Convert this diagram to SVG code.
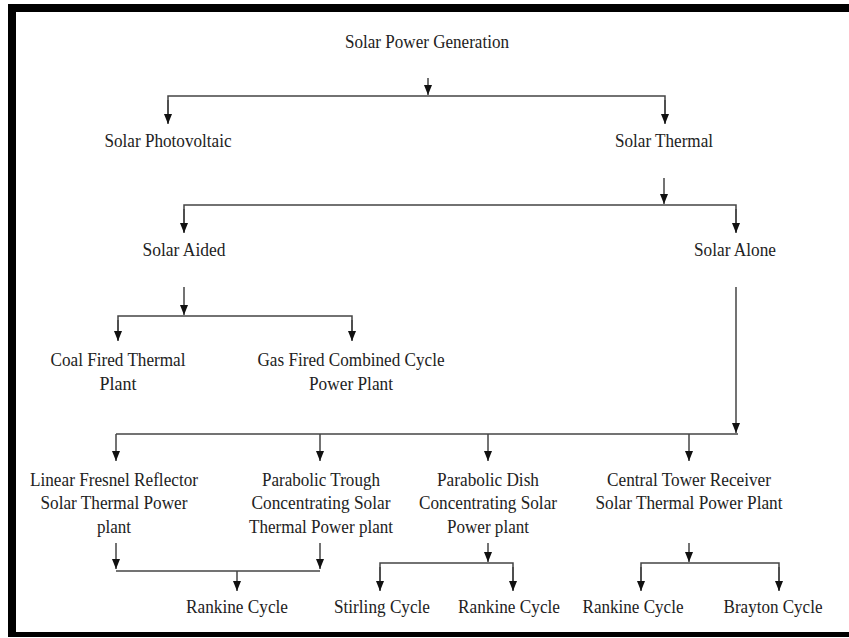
<svg xmlns="http://www.w3.org/2000/svg" width="849" height="638" viewBox="0 0 849 638">
<style>
text{font-family:"Liberation Serif","Times New Roman",serif;font-size:19px;fill:#222;text-anchor:middle}
.c{stroke:#444;stroke-width:1.5;fill:none}
.a{marker-end:url(#ah)}
</style>
<defs>
<marker id="ah" markerUnits="userSpaceOnUse" markerWidth="10" markerHeight="9" refX="10" refY="4" orient="auto">
<path d="M0,0 L10,4 L0,8 z" fill="#111"/>
</marker>
</defs>
<rect width="849" height="638" fill="#fff"/>
<g id="frame" fill="#000">
<rect x="8" y="4" width="841" height="8"/>
<rect x="8" y="4" width="8" height="633"/>
<rect x="8" y="632" width="841" height="5"/>
</g>
<g id="connectors">
<line class="c a" x1="428" y1="78" x2="428" y2="95"/>
<polyline class="c" points="168,123 168,96 665,96 665,123"/>
<line class="c a" x1="168" y1="100" x2="168" y2="124"/>
<line class="c a" x1="665" y1="100" x2="665" y2="124"/>
<line class="c a" x1="664" y1="178" x2="664" y2="204"/>
<polyline class="c" points="184,232 184,205 736,205 736,232"/>
<line class="c a" x1="184" y1="209" x2="184" y2="233"/>
<line class="c a" x1="736" y1="209" x2="736" y2="233"/>
<line class="c a" x1="184" y1="287" x2="184" y2="315"/>
<polyline class="c" points="118,340 118,316 352,316 352,340"/>
<line class="c a" x1="118" y1="320" x2="118" y2="341"/>
<line class="c a" x1="352" y1="320" x2="352" y2="341"/>
<line class="c a" x1="736" y1="287" x2="736" y2="433"/>
<line class="c" x1="116" y1="434" x2="738" y2="434"/>
<line class="c a" x1="116" y1="434" x2="116" y2="461"/>
<line class="c a" x1="320" y1="434" x2="320" y2="461"/>
<line class="c a" x1="488" y1="434" x2="488" y2="461"/>
<line class="c a" x1="689" y1="434" x2="689" y2="461"/>
<line class="c a" x1="116" y1="543" x2="116" y2="569"/>
<line class="c a" x1="320" y1="543" x2="320" y2="569"/>
<line class="c" x1="116" y1="571" x2="320" y2="571"/>
<line class="c a" x1="237" y1="571" x2="237" y2="591"/>
<line class="c a" x1="488" y1="543" x2="488" y2="562"/>
<polyline class="c" points="380,590 380,563 513,563 513,590"/>
<line class="c a" x1="380" y1="567" x2="380" y2="591"/>
<line class="c a" x1="513" y1="567" x2="513" y2="591"/>
<line class="c a" x1="689" y1="543" x2="689" y2="562"/>
<polyline class="c" points="641,590 641,563 779,563 779,590"/>
<line class="c a" x1="641" y1="567" x2="641" y2="591"/>
<line class="c a" x1="779" y1="567" x2="779" y2="591"/>
</g>
<g id="n-root"><text x="427" y="48" textLength="164" lengthAdjust="spacingAndGlyphs">Solar Power Generation</text></g>
<g id="n-pv"><text x="168" y="147" textLength="127" lengthAdjust="spacingAndGlyphs">Solar Photovoltaic</text></g>
<g id="n-thermal"><text x="664" y="147" textLength="98" lengthAdjust="spacingAndGlyphs">Solar Thermal</text></g>
<g id="n-aided"><text x="184" y="256" textLength="83" lengthAdjust="spacingAndGlyphs">Solar Aided</text></g>
<g id="n-alone"><text x="735" y="256" textLength="82" lengthAdjust="spacingAndGlyphs">Solar Alone</text></g>
<g id="n-coal">
<text x="118" y="366" textLength="135" lengthAdjust="spacingAndGlyphs">Coal Fired Thermal</text>
<text x="118" y="390" textLength="37" lengthAdjust="spacingAndGlyphs">Plant</text>
</g>
<g id="n-gas">
<text x="351" y="366" textLength="187" lengthAdjust="spacingAndGlyphs">Gas Fired Combined Cycle</text>
<text x="351" y="390" textLength="84" lengthAdjust="spacingAndGlyphs">Power Plant</text>
</g>
<g id="n-lfr">
<text x="114" y="486" textLength="168" lengthAdjust="spacingAndGlyphs">Linear Fresnel Reflector</text>
<text x="114" y="509" textLength="147" lengthAdjust="spacingAndGlyphs">Solar Thermal Power</text>
<text x="114" y="533" textLength="34" lengthAdjust="spacingAndGlyphs">plant</text>
</g>
<g id="n-trough">
<text x="321" y="486" textLength="118" lengthAdjust="spacingAndGlyphs">Parabolic Trough</text>
<text x="321" y="509" textLength="139" lengthAdjust="spacingAndGlyphs">Concentrating Solar</text>
<text x="321" y="533" textLength="144" lengthAdjust="spacingAndGlyphs">Thermal Power plant</text>
</g>
<g id="n-dish">
<text x="488" y="486" textLength="102" lengthAdjust="spacingAndGlyphs">Parabolic Dish</text>
<text x="488" y="509" textLength="138" lengthAdjust="spacingAndGlyphs">Concentrating Solar</text>
<text x="488" y="533" textLength="82" lengthAdjust="spacingAndGlyphs">Power plant</text>
</g>
<g id="n-tower">
<text x="689" y="486" textLength="164" lengthAdjust="spacingAndGlyphs">Central Tower Receiver</text>
<text x="689" y="509" textLength="187" lengthAdjust="spacingAndGlyphs">Solar Thermal Power Plant</text>
</g>
<g id="n-rankine1"><text x="237" y="613" textLength="102" lengthAdjust="spacingAndGlyphs">Rankine Cycle</text></g>
<g id="n-stirling"><text x="382" y="613" textLength="96" lengthAdjust="spacingAndGlyphs">Stirling Cycle</text></g>
<g id="n-rankine2"><text x="509" y="613" textLength="102" lengthAdjust="spacingAndGlyphs">Rankine Cycle</text></g>
<g id="n-rankine3"><text x="633" y="613" textLength="101" lengthAdjust="spacingAndGlyphs">Rankine Cycle</text></g>
<g id="n-brayton"><text x="773" y="613" textLength="99" lengthAdjust="spacingAndGlyphs">Brayton Cycle</text></g>
</svg>
